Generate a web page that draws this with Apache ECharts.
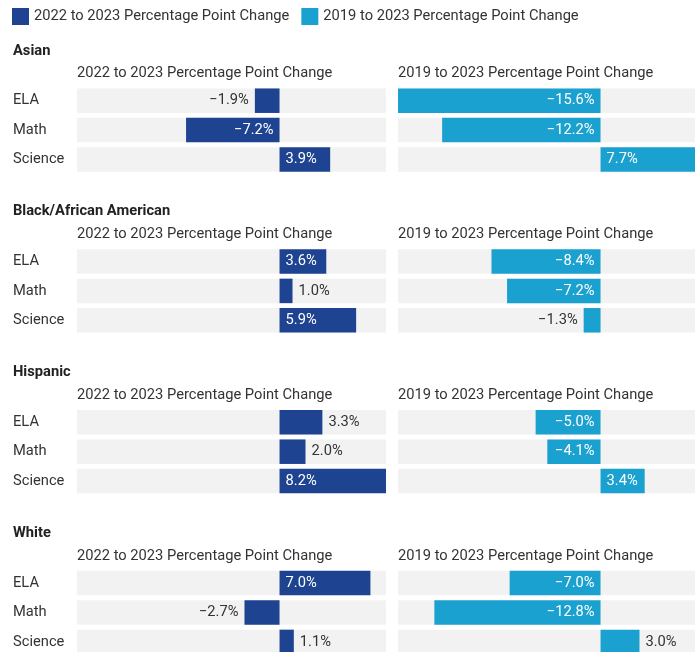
<!DOCTYPE html>
<html>
<head>
<meta charset="utf-8">
<script src="https://cdn.jsdelivr.net/npm/echarts@6/dist/echarts.min.js"></script>
<style>
html,body{margin:0;padding:0;background:#fff;}
#chart{width:695px;height:652px;}
</style>
</head>
<body>
<div id="chart"></div>
<script>
var subjects = ['ELA', 'Math', 'Science'];
var groups = ['Asian', 'Black/African American', 'Hispanic', 'White'];
var periodNames = ['2022 to 2023 Percentage Point Change', '2019 to 2023 Percentage Point Change'];
var change2022to2023 = [
  [-1.9, -7.2, 3.9],
  [3.6, 1.0, 5.9],
  [3.3, 2.0, 8.2],
  [7.0, -2.7, 1.1]
];
var change2019to2023 = [
  [-15.6, -12.2, 7.7],
  [-8.4, -7.2, -1.3],
  [-5.0, -4.1, 3.4],
  [-7.0, -12.8, 3.0]
];
var axisMin = -15.6, axisMax = 8.2;

var colors = ['#1e4391', '#1ba1cf'];
var FONT = 'Roboto, "Noto Sans", sans-serif';
var FS = 14.7;
var SECTION_PITCH = 160.8;
var GRID_TOP0 = 86, GRID_H = 88.2;
var PANEL_LEFT = [77, 398], PANEL_W = 309;

function fmt(v) {
  return (v < 0 ? '\u2212' + Math.abs(v).toFixed(1) : v.toFixed(1)) + '%';
}
function item(v) {
  var inside = Math.abs(v) >= 3.4;
  var pos = inside ? (v < 0 ? 'insideRight' : 'insideLeft') : (v < 0 ? 'left' : 'right');
  return {
    value: v,
    label: { position: pos, color: inside ? '#ffffff' : '#333333' }
  };
}

var grids = [], xAxes = [], yAxes = [], series = [], graphics = [];
var panels = [change2022to2023, change2019to2023];
groups.forEach(function (g, gi) {
  var off = gi * SECTION_PITCH;
  graphics.push({
    type: 'text', x: 13, y: 51 + off,
    style: { text: g, font: 'bold ' + FS + 'px ' + FONT, fill: '#222', verticalAlign: 'middle' }
  });
  for (var p = 0; p < 2; p++) {
    var idx = gi * 2 + p;
    graphics.push({
      type: 'text', x: PANEL_LEFT[p], y: 73.5 + off,
      style: { text: periodNames[p], font: FS + 'px ' + FONT, fill: '#333', verticalAlign: 'middle' }
    });
    grids.push({
      left: PANEL_LEFT[p], top: GRID_TOP0 + off, width: PANEL_W, height: GRID_H,
      containLabel: false, outerBoundsMode: 'none'
    });
    xAxes.push({ type: 'value', gridIndex: idx, min: axisMin, max: axisMax, show: false });
    yAxes.push({
      type: 'category', gridIndex: idx, data: subjects, inverse: true,
      axisLine: { show: false }, axisTick: { show: false }, splitLine: { show: false },
      axisLabel: {
        show: p === 0, align: 'left', margin: PANEL_LEFT[0] - 13,
        color: '#333', fontSize: FS, fontFamily: FONT
      }
    });
    series.push({
      type: 'bar', name: periodNames[p], xAxisIndex: idx, yAxisIndex: idx,
      data: panels[p][gi].map(item),
      barWidth: 24.5,
      itemStyle: { color: colors[p] },
      showBackground: true,
      backgroundStyle: { color: '#f2f2f2' },
      label: {
        show: true, distance: 6, fontSize: FS, fontFamily: FONT,
        formatter: function (prm) { return fmt(prm.value); }
      },
      emphasis: { disabled: true },
      animation: false
    });
  }
});

var chart = echarts.init(document.getElementById('chart'), null, { renderer: 'canvas' });
chart.setOption({
  backgroundColor: '#fff',
  animation: false,
  color: colors,
  textStyle: { fontFamily: FONT },
  legend: {
    left: 12, top: 8, padding: 0, itemWidth: 17, itemHeight: 17, itemGap: 12,
    icon: 'rect', selectedMode: false,
    textStyle: { fontSize: FS, color: '#333', fontFamily: FONT },
    data: periodNames
  },
  grid: grids,
  xAxis: xAxes,
  yAxis: yAxes,
  series: series,
  graphic: graphics
});
</script>
</body>
</html>
